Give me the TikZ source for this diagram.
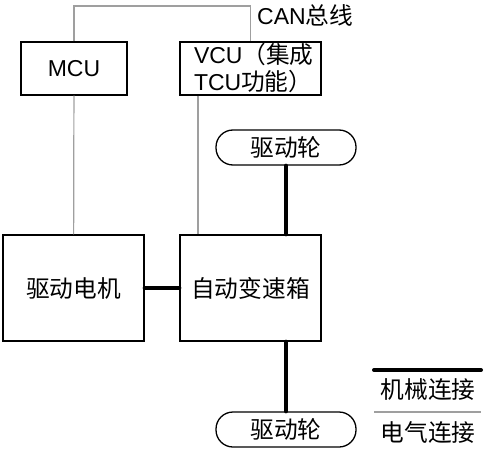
\documentclass[tikz,border=0pt]{standalone}
\usepackage{fontspec}
\setmainfont{Liberation Sans}
\newfontfamily\cjk[Scale=1.03]{Noto Sans CJK SC}
\tikzset{
  box/.style={draw,line width=1.3bp,inner sep=0pt},
  wheel/.style={draw,line width=1.3bp,rounded corners=17bp,minimum width=140bp,minimum height=35bp,inner sep=0pt},
  mech/.style={line width=4bp,line cap=round},
  elec/.style={draw=gray!75,line width=1.2bp}
}
\begin{document}
\begin{tikzpicture}[x=1bp,y=-1bp,font=\fontsize{23bp}{27bp}\selectfont]
        \useasboundingbox (0,0) rectangle (488,450);
        % controllers
        \node[box,minimum width=106bp,minimum height=53bp] (mcu) at (74,68.5) {MCU};
        \node[box,minimum width=141bp,minimum height=53bp,inner xsep=14bp,text width=113bp,align=left] (vcu) at (250.5,68.5) {VCU{\cjk（集成}\\TCU{\cjk 功能）}};
        % drive train
        \node[box,minimum width=141bp,minimum height=106bp] (motor) at (73.5,288) {\cjk 驱动电机};
        \node[box,minimum width=141bp,minimum height=106bp] (gear) at (250.5,288) {\cjk 自动变速箱};
        \node[wheel] (wheeltop) at (286,147.5) {\cjk 驱动轮};
        \node[wheel] (wheelbot) at (286,429.5) {\cjk 驱动轮};
        % CAN bus
        \coordinate (can) at (74,6);
        \draw[elec] (mcu.north) -- (can) -| (vcu.north);
        \node[anchor=west,inner sep=0pt] (canlabel) at (257,15) {CAN{\cjk 总线}};
        \draw[elec] (mcu) -- (motor);
        \draw[elec] ([xshift=-52.5bp]vcu.south) -- ([xshift=-52.5bp]gear.north);
        % mechanical links
        \draw[mech] (wheeltop.south) -- (wheeltop.south |- gear.north);
        \draw[mech] (motor.east) -- (gear.west);
        \draw[mech] (gear.south -| wheelbot.north) -- (wheelbot.north);
        % legend
        \coordinate (m1) at (374,370);
        \coordinate (m2) at (481,370);
        \coordinate (e1) at (374,412);
        \coordinate (e2) at (481,412);
        \draw[mech] (m1) -- (m2);
        \draw[elec] (e1) -- (e2);
        \node (mlabel) at (428,390) {\cjk 机械连接};
        \node (elabel) at (428,432) {\cjk 电气连接};

      \end{tikzpicture}
\end{document}
